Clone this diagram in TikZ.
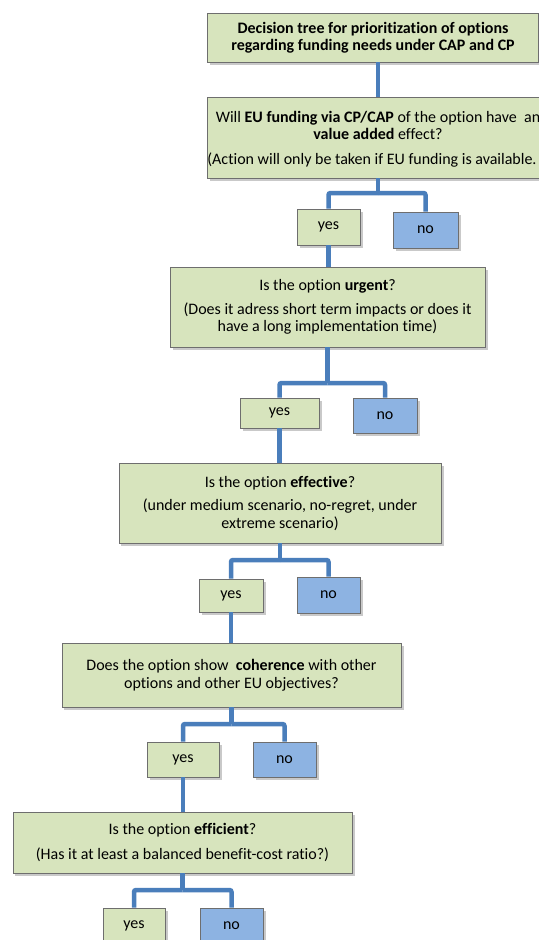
\documentclass[tikz,border=0pt]{standalone}
\usepackage{fontspec}
\setmainfont{Carlito}[Ligatures=NoCommon]
\usetikzlibrary{shadows}
\definecolor{boxgreen}{HTML}{D7E4BD}
\definecolor{boxblue}{HTML}{8DB3E2}
\definecolor{linkblue}{HTML}{4A7EBB}
\definecolor{edgegray}{HTML}{6E6E6E}
\tikzset{
  base/.style={draw=edgegray, line width=0.9bp, inner sep=0pt, align=center,
    font=\fontsize{16bp}{17.5bp}\selectfont,
    drop shadow={shadow xshift=2.5bp, shadow yshift=-2.5bp, opacity=0.35, fill=black!60}},
  qbox/.style={base, fill=boxgreen},
  yesbox/.style={base, fill=boxgreen},
  nobox/.style={base, fill=boxblue},
  link/.style={draw=linkblue, line width=4.5bp, rounded corners=2bp}
}
\begin{document}
\begin{tikzpicture}[x=1bp,y=-1bp]
\useasboundingbox (0,0) rectangle (539,940);
\fill[white] (0,0) rectangle (539,940);

% title
\node[qbox, minimum width=331bp, minimum height=49bp] (t) at (373,37.5)
  {\bfseries Decision tree for prioritization of options\\ \bfseries regarding funding needs under CAP and CP};

% question 1
\node[qbox, minimum width=342bp, minimum height=81bp] (q1) at (378,137.5)
  {\rule{0pt}{14bp}Will \textbf{EU funding via CP/CAP} of the option have\ \ an\\ \textbf{value added} effect?\\[7bp] (Action will only be taken if EU funding is available.\hspace*{12bp}};
\node[yesbox, minimum width=63bp, minimum height=36bp] (y1) at (328.5,227) {yes};
\node[nobox, minimum width=65bp, minimum height=36bp] (n1) at (425.5,230) {no};
\coordinate (j1) at (378,193);

% question 2
\node[qbox, minimum width=315bp, minimum height=80bp] (q2) at (327.5,307)
  {Is the option \textbf{urgent}?\\[6bp] (Does it adress short term impacts or does it\\ have a long implementation time)};
\node[yesbox, minimum width=79bp, minimum height=30bp] (y2) at (279.5,413) {yes};
\node[nobox, minimum width=64bp, minimum height=35bp] (n2) at (385,415.5) {no};
\coordinate (j2) at (327.5,383);

% question 3
\node[qbox, minimum width=322bp, minimum height=80bp] (q3) at (280,503)
  {Is the option \textbf{effective}?\\[6bp] (under medium scenario, no-regret, under\\ extreme scenario)};
\node[yesbox, minimum width=64bp, minimum height=33bp] (y3) at (231,595.5) {yes};
\node[nobox, minimum width=63bp, minimum height=36bp] (n3) at (328.5,595) {no};
\coordinate (j3) at (280,560);

% question 4
\node[qbox, minimum width=339bp, minimum height=64bp] (q4) at (231.5,675)
  {Does the option show\ \ \textbf{coherence} with other\\ options and other EU objectives?};
\node[yesbox, minimum width=72bp, minimum height=35bp] (y4) at (183,759.5) {yes};
\node[nobox, minimum width=63bp, minimum height=35bp] (n4) at (284.5,759.5) {no};
\coordinate (j4) at (231.5,724);

% question 5
\node[qbox, minimum width=339bp, minimum height=61bp] (q5) at (182.5,842.5)
  {Is the option \textbf{efficient}?\\[8bp] (Has it at least a balanced benefit-cost ratio?)};
\node[yesbox, minimum width=62bp, minimum height=36bp] (y5) at (134,926) {yes};
\node[nobox, minimum width=63bp, minimum height=36bp] (n5) at (231.5,926) {no};
\coordinate (j5) at (182.5,890);

% connectors
\draw[link] (t.south -| q1.north) -- (q1.north);
\draw[link] (q1.south) -- (j1);
\draw[link] (j1) -| (y1.north);
\draw[link] (j1) -| (n1.north);
\draw[link] (y1.south) -- (y1.south |- q2.north);

\draw[link] (q2.south) -- (j2);
\draw[link] (j2) -| (y2.north);
\draw[link] (j2) -| (n2.north);
\draw[link] (y2.south) -- (y2.south |- q3.north);

\draw[link] (q3.south) -- (j3);
\draw[link] (j3) -| (y3.north);
\draw[link] (j3) -| (n3.north);
\draw[link] (y3.south) -- (y3.south |- q4.north);

\draw[link] (q4.south) -- (j4);
\draw[link] (j4) -| (y4.north);
\draw[link] (j4) -| (n4.north);
\draw[link] (y4.south) -- (y4.south |- q5.north);

\draw[link] (q5.south) -- (j5);
\draw[link] (j5) -| (y5.north);
\draw[link] (j5) -| (n5.north);
\end{tikzpicture}
\end{document}
